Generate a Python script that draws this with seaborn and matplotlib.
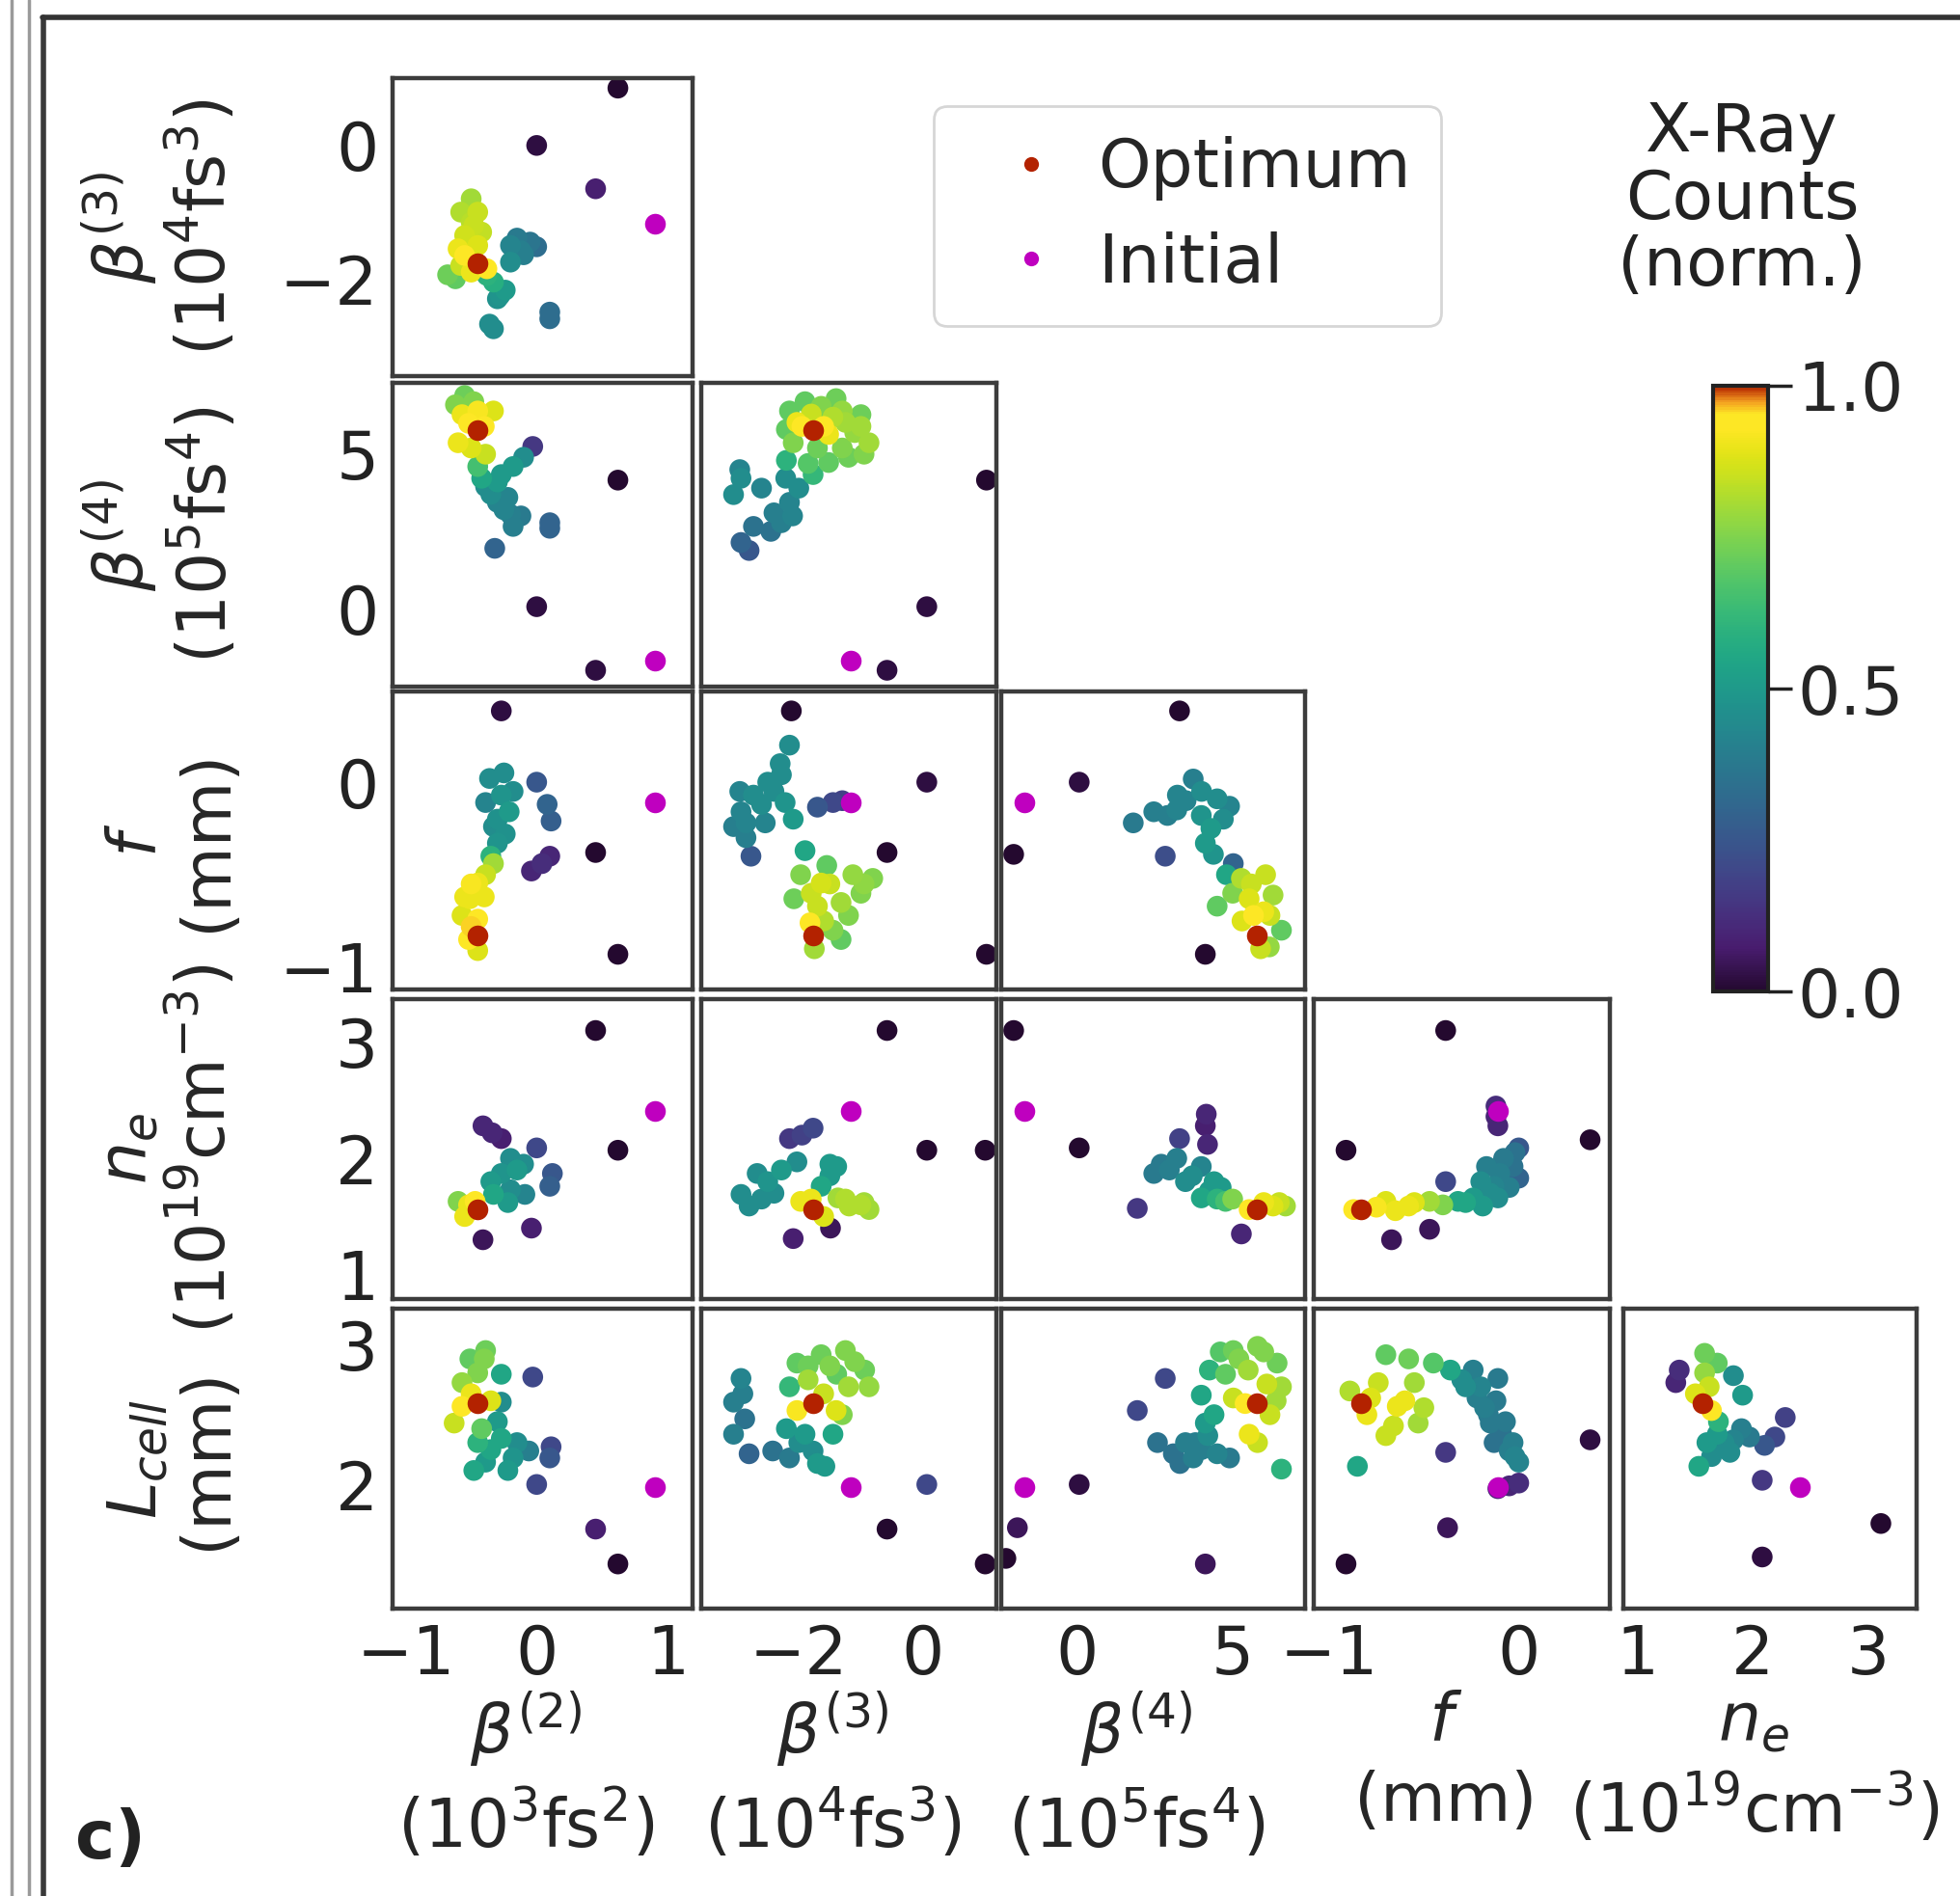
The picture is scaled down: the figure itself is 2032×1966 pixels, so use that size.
import numpy as np
import pandas as pd
import matplotlib
matplotlib.use("Agg")
import matplotlib.pyplot as plt
from matplotlib.colors import LinearSegmentedColormap, Normalize
from matplotlib.lines import Line2D
import seaborn as sns

# ---------------------------------------------------------------- data
# Each panel: (x, y, normalised x-ray counts) for the sampled settings.
B3_VS_B2 = [
    (0.62, 0.86, 0.0), (0.0, 0.0, 0.02), (0.45, -0.65, 0.08),
    (-0.5, -0.8, 0.8), (-0.45, -1.0, 0.85), (-0.5, -1.15, 0.83), (-0.42, -1.3, 0.84),
    (-0.55, -1.35, 0.86), (-0.58, -1.0, 0.82), (-0.48, -1.2, 0.85), (-0.45, -1.5, 0.88),
    (-0.6, -1.55, 0.9), (-0.55, -1.65, 0.95), (-0.38, -1.85, 0.93), (-0.5, -1.9, 0.9),
    (-0.58, -1.8, 0.85),
    (-0.68, -1.94, 0.72), (-0.62, -2.0, 0.7),
    (-0.15, -1.39, 0.38), (0.0, -1.52, 0.33), (-0.1, -1.64, 0.4), (-0.2, -1.5, 0.42),
    (-0.05, -1.45, 0.36), (-0.12, -1.58, 0.4), (-0.2, -1.75, 0.45),
    (-0.24, -2.17, 0.5), (-0.33, -2.05, 0.58), (-0.38, -1.95, 0.6), (-0.28, -2.25, 0.48),
    (-0.3, -2.3, 0.47),
    (-0.33, -2.75, 0.45), (-0.36, -2.68, 0.45), (0.1, -2.6, 0.33), (0.1, -2.5, 0.33),
]
B4_VS_B2 = [
    (0.62, 4.16, 0.0), (0.0, 0.06, 0.02), (0.45, -2.0, 0.02),
    (-0.48, 6.7, 0.75), (-0.57, 6.28, 0.9), (-0.33, 6.4, 0.88), (-0.6, 5.37, 0.9),
    (-0.39, 5.0, 0.85), (-0.52, 6.0, 0.95), (-0.4, 5.9, 0.93), (-0.62, 6.6, 0.75),
    (-0.45, 6.4, 0.92), (-0.5, 5.2, 0.88), (-0.55, 6.9, 0.72),
    (-0.03, 5.25, 0.15),
    (-0.42, 4.22, 0.55), (-0.27, 4.34, 0.5), (-0.18, 4.6, 0.5), (-0.1, 4.9, 0.45),
    (-0.39, 3.95, 0.45), (-0.3, 3.44, 0.42), (-0.2, 3.05, 0.4), (-0.18, 2.66, 0.4),
    (-0.35, 3.7, 0.45), (-0.25, 3.2, 0.42), (-0.3, 4.1, 0.5), (-0.22, 3.6, 0.42),
    (-0.12, 3.0, 0.38), (-0.45, 4.6, 0.65),
    (0.1, 2.78, 0.3), (0.1, 2.6, 0.3), (-0.32, 1.95, 0.3),
]
B4_VS_B3 = [
    (1.02, 4.16, 0.0), (0.06, 0.06, 0.02), (-0.58, -2.0, 0.02),
    (-2.15, 6.4, 0.7), (-1.64, 6.55, 0.75), (-1.25, 6.03, 0.8), (-0.87, 5.37, 0.8),
    (-1.0, 6.28, 0.72), (-2.09, 5.37, 0.75), (-1.52, 4.73, 0.7), (-1.77, 4.34, 0.62),
    (-2.03, 6.03, 0.9), (-1.52, 5.64, 0.9), (-1.9, 6.7, 0.7), (-1.4, 6.8, 0.72),
    (-1.1, 5.7, 0.78), (-1.3, 5.2, 0.75), (-1.95, 5.9, 0.95), (-1.6, 5.9, 0.93),
    (-1.8, 6.3, 0.85), (-1.3, 6.4, 0.78), (-1.7, 5.2, 0.72), (-1.0, 5.9, 0.8),
    (-2.2, 4.8, 0.6), (-1.2, 4.9, 0.72), (-1.45, 6.2, 0.82), (-2.2, 5.8, 0.7),
    (-1.85, 4.7, 0.68), (-0.95, 5.0, 0.75),
    (-2.93, 4.22, 0.45), (-3.05, 3.69, 0.45), (-2.21, 4.22, 0.45), (-2.15, 3.44, 0.42),
    (-2.28, 2.78, 0.4), (-2.73, 2.66, 0.35), (-2.93, 2.14, 0.3), (-2.8, 1.88, 0.25),
    (-2.0, 3.9, 0.45), (-2.4, 3.1, 0.4), (-2.95, 4.5, 0.42), (-2.6, 3.9, 0.42),
    (-2.45, 2.5, 0.35), (-2.1, 3.0, 0.42),
]
F_VS_B2 = [
    (-0.27, 0.385, 0.02), (0.45, -0.38, 0.0), (0.62, -0.93, 0.0),
    (-0.36, 0.02, 0.45), (-0.27, -0.07, 0.48), (-0.21, -0.16, 0.5), (-0.33, -0.24, 0.45),
    (-0.3, -0.33, 0.48), (-0.39, -0.11, 0.42), (-0.25, 0.05, 0.45), (-0.18, -0.05, 0.45),
    (-0.3, -0.2, 0.47), (-0.24, -0.28, 0.47), (-0.35, -0.4, 0.6),
    (0.0, 0.0, 0.25), (0.11, -0.21, 0.28), (0.08, -0.12, 0.3),
    (-0.04, -0.48, 0.1), (0.1, -0.4, 0.1), (0.04, -0.44, 0.12),
    (-0.45, -0.545, 0.9), (-0.51, -0.63, 0.9), (-0.39, -0.5, 0.85), (-0.57, -0.72, 0.88),
    (-0.33, -0.44, 0.8), (-0.5, -0.55, 0.92), (-0.55, -0.62, 0.9), (-0.4, -0.62, 0.9),
    (-0.45, -0.74, 0.95), (-0.5, -0.78, 0.96), (-0.45, -0.91, 0.88), (-0.52, -0.85, 0.93),
]
F_VS_B3 = [
    (-2.12, 0.385, 0.0), (0.06, 0.0, 0.02), (-0.58, -0.38, 0.0), (1.02, -0.93, 0.0),
    (-2.93, -0.16, 0.42), (-2.73, -0.07, 0.45), (-3.05, -0.24, 0.4), (-2.28, 0.04, 0.45),
    (-2.22, -0.11, 0.48), (-2.09, -0.2, 0.5), (-2.54, -0.22, 0.42), (-2.85, -0.3, 0.4),
    (-2.3, 0.1, 0.45), (-2.6, -0.12, 0.45), (-2.4, -0.05, 0.45), (-2.95, -0.05, 0.42),
    (-2.5, 0.0, 0.45), (-2.15, 0.2, 0.45), (-2.85, -0.22, 0.42),
    (-2.77, -0.4, 0.25),
    (-1.7, -0.135, 0.25), (-1.45, -0.11, 0.2), (-1.3, -0.1, 0.18),
    (-1.9, -0.37, 0.55),
    (-1.97, -0.5, 0.75), (-1.64, -0.545, 0.87), (-1.13, -0.5, 0.78), (-0.81, -0.52, 0.75),
    (-2.08, -0.63, 0.72), (-1.7, -0.67, 0.85), (-1.32, -0.65, 0.8), (-1.45, -0.8, 0.75),
    (-1.32, -0.85, 0.7), (-1.82, -0.76, 0.95), (-1.0, -0.6, 0.75), (-1.5, -0.55, 0.85),
    (-1.8, -0.6, 0.85), (-1.6, -0.75, 0.82), (-1.2, -0.72, 0.75), (-0.95, -0.55, 0.77),
    (-1.55, -0.45, 0.7), (-1.75, -0.9, 0.8),
]
F_VS_B4 = [
    (3.29, 0.385, 0.0), (0.06, 0.0, 0.02), (-2.05, -0.39, 0.0), (4.12, -0.93, 0.0),
    (1.8, -0.22, 0.38), (2.46, -0.16, 0.4), (3.22, -0.07, 0.42), (3.73, 0.017, 0.4),
    (4.5, -0.09, 0.45), (4.9, -0.13, 0.42), (3.99, -0.18, 0.48), (4.12, -0.33, 0.5),
    (4.38, -0.39, 0.48), (3.5, -0.1, 0.42), (2.9, -0.18, 0.4), (3.2, -0.15, 0.42),
    (4.0, -0.05, 0.45), (4.7, -0.2, 0.45), (4.3, -0.25, 0.5), (4.8, -0.5, 0.55),
    (2.83, -0.4, 0.22), (5.02, -0.44, 0.3),
    (4.5, -0.67, 0.7), (5.28, -0.52, 0.82), (6.06, -0.5, 0.85), (6.3, -0.61, 0.8),
    (5.53, -0.63, 0.88), (5.67, -0.72, 0.95), (6.57, -0.8, 0.7), (6.18, -0.89, 0.78),
    (6.0, -0.7, 0.9), (5.0, -0.6, 0.75), (5.6, -0.55, 0.85), (6.2, -0.72, 0.85),
    (5.3, -0.75, 0.88), (5.9, -0.9, 0.85),
]
NE_VS_B2 = [
    (0.45, 3.1, 0.0), (0.62, 2.07, 0.0),
    (-0.41, 2.28, 0.1), (-0.27, 2.17, 0.08), (-0.34, 2.22, 0.1),
    (0.0, 2.09, 0.2), (0.12, 1.87, 0.25), (0.1, 1.76, 0.28),
    (-0.27, 1.87, 0.48), (-0.15, 1.9, 0.5), (-0.2, 1.73, 0.45), (-0.09, 1.69, 0.42),
    (-0.33, 1.69, 0.55), (-0.2, 2.0, 0.45), (-0.35, 1.8, 0.5), (-0.22, 1.62, 0.5),
    (-0.1, 1.95, 0.45),
    (-0.6, 1.63, 0.75), (-0.47, 1.63, 0.95), (-0.55, 1.5, 0.9), (-0.52, 1.6, 0.9),
    (-0.04, 1.4, 0.08), (-0.41, 1.3, 0.05),
]
NE_VS_B3 = [
    (-0.58, 3.1, 0.0), (0.06, 2.07, 0.0), (1.0, 2.07, 0.0),
    (-2.15, 2.17, 0.15), (-1.77, 2.26, 0.2), (-1.95, 2.2, 0.18),
    (-2.93, 1.69, 0.45), (-2.67, 1.87, 0.45), (-2.28, 1.9, 0.5), (-2.03, 1.97, 0.45),
    (-2.8, 1.59, 0.45), (-2.5, 1.8, 0.48), (-2.4, 1.7, 0.45), (-2.6, 1.65, 0.45),
    (-1.39, 1.93, 0.5), (-1.64, 1.76, 0.55), (-1.5, 1.85, 0.5), (-1.5, 1.95, 0.5),
    (-1.19, 1.59, 0.82), (-0.87, 1.56, 0.8), (-1.37, 1.66, 0.8), (-1.0, 1.6, 0.82),
    (-1.25, 1.65, 0.82), (-0.95, 1.62, 0.8),
    (-1.97, 1.63, 0.9), (-1.6, 1.5, 0.88), (-1.8, 1.65, 0.9),
    (-2.09, 1.31, 0.08), (-1.49, 1.4, 0.05),
]
NE_VS_B4 = [
    (-2.05, 3.1, 0.0), (0.06, 2.09, 0.0), (1.93, 1.57, 0.15),
    (3.29, 2.17, 0.18), (4.12, 2.28, 0.08), (4.19, 2.12, 0.1), (4.15, 2.38, 0.1),
    (2.46, 1.87, 0.38), (2.96, 1.9, 0.4), (3.48, 1.8, 0.45), (3.99, 1.93, 0.42),
    (4.25, 1.72, 0.5), (4.63, 1.75, 0.5), (3.99, 1.66, 0.55), (4.77, 1.63, 0.65),
    (3.2, 2.0, 0.4), (3.7, 1.85, 0.45), (4.4, 1.8, 0.5), (4.5, 1.65, 0.6),
    (2.7, 1.95, 0.38), (5.0, 1.65, 0.75),
    (6.3, 1.59, 0.88), (6.7, 1.59, 0.8), (5.53, 1.56, 0.95), (6.0, 1.62, 0.9),
    (6.5, 1.62, 0.85),
    (5.28, 1.35, 0.1),
]
NE_VS_F = [
    (-0.385, 3.1, 0.0), (0.376, 2.16, 0.0), (-0.91, 2.07, 0.0),
    (-0.12, 2.45, 0.12), (-0.11, 2.28, 0.1), (-0.12, 2.36, 0.1),
    (0.0, 2.09, 0.25),
    (-0.03, 1.93, 0.35), (-0.17, 1.93, 0.4), (-0.13, 1.76, 0.42), (0.0, 1.83, 0.3),
    (-0.24, 1.66, 0.5), (-0.11, 1.66, 0.45), (-0.19, 1.59, 0.5), (-0.08, 2.0, 0.38),
    (-0.2, 1.8, 0.45), (-0.05, 1.75, 0.4), (-0.15, 1.7, 0.45), (-0.02, 2.05, 0.35),
    (-0.1, 1.87, 0.4),
    (-0.385, 1.8, 0.2), (-0.32, 1.63, 0.55), (-0.28, 1.62, 0.55), (-0.4, 1.6, 0.75),
    (-0.58, 1.59, 0.9), (-0.47, 1.63, 0.8), (-0.7, 1.63, 0.88), (-0.65, 1.55, 0.9),
    (-0.55, 1.62, 0.88), (-0.75, 1.58, 0.92),
    (-0.87, 1.56, 0.95),
    (-0.67, 1.3, 0.05), (-0.47, 1.39, 0.05),
]
L_VS_B2 = [
    (-0.51, 2.9, 0.7), (-0.39, 2.96, 0.72), (-0.27, 2.79, 0.55), (-0.57, 2.73, 0.78),
    (-0.45, 2.8, 0.75), (-0.4, 2.9, 0.75),
    (-0.03, 2.77, 0.2),
    (-0.57, 2.56, 0.95), (-0.63, 2.44, 0.85), (-0.35, 2.6, 0.88), (-0.5, 2.65, 0.9),
    (-0.27, 2.59, 0.45),
    (-0.45, 2.3, 0.6), (-0.27, 2.33, 0.55), (-0.39, 2.16, 0.5), (-0.18, 2.19, 0.48),
    (-0.48, 2.1, 0.55), (-0.06, 2.24, 0.4), (-0.3, 2.45, 0.5), (-0.42, 2.4, 0.7),
    (-0.35, 2.25, 0.55), (-0.22, 2.1, 0.5), (-0.15, 2.3, 0.45),
    (0.11, 2.27, 0.2), (0.1, 2.19, 0.25),
    (0.0, 2.0, 0.2), (0.45, 1.68, 0.08), (0.62, 1.43, 0.0),
]
L_VS_B3 = [
    (-2.03, 2.87, 0.7), (-1.64, 2.93, 0.72), (-1.25, 2.96, 0.75), (-0.94, 2.82, 0.72),
    (-0.87, 2.7, 0.78), (-1.39, 2.79, 0.7), (-2.15, 2.7, 0.62), (-1.85, 2.85, 0.72),
    (-1.85, 2.75, 0.8), (-1.5, 2.85, 0.75), (-1.1, 2.88, 0.75), (-1.2, 2.7, 0.8),
    (-2.03, 2.53, 0.92), (-1.4, 2.53, 0.88), (-1.6, 2.65, 0.85), (-1.3, 2.5, 0.75),
    (-2.93, 2.76, 0.42), (-3.05, 2.59, 0.4), (-2.87, 2.47, 0.35), (-3.05, 2.36, 0.4),
    (-2.8, 2.22, 0.3), (-2.9, 2.65, 0.4),
    (-2.42, 2.24, 0.35), (-2.15, 2.19, 0.38), (-1.77, 2.24, 0.45), (-1.58, 2.13, 0.5),
    (-1.45, 2.36, 0.55), (-1.9, 2.36, 0.5), (-2.0, 2.3, 0.45), (-1.7, 2.15, 0.5),
    (-2.2, 2.4, 0.5),
    (0.06, 2.0, 0.2), (-0.58, 1.68, 0.0), (1.0, 1.43, 0.0),
]
L_VS_B4 = [
    (-1.93, 1.69, 0.05), (-2.3, 1.47, 0.0), (0.06, 2.0, 0.02), (4.12, 1.43, 0.05),
    (2.83, 2.76, 0.2), (1.93, 2.53, 0.2),
    (2.58, 2.3, 0.35), (3.09, 2.22, 0.35), (3.73, 2.19, 0.4), (4.5, 2.22, 0.42),
    (4.9, 2.19, 0.38), (3.48, 2.3, 0.4), (4.0, 2.25, 0.4), (3.3, 2.15, 0.35),
    (4.2, 2.35, 0.45), (3.8, 2.3, 0.4),
    (4.12, 2.44, 0.5), (3.99, 2.64, 0.55), (4.25, 2.82, 0.6), (4.4, 2.5, 0.55),
    (5.02, 2.96, 0.72), (5.8, 2.99, 0.75), (6.43, 2.87, 0.72), (6.57, 2.7, 0.8),
    (4.77, 2.79, 0.7), (5.02, 2.62, 0.85), (5.4, 2.58, 0.95), (6.2, 2.5, 0.85),
    (5.5, 2.82, 0.8), (6.1, 2.72, 0.85), (6.4, 2.6, 0.8), (4.6, 2.95, 0.68),
    (5.2, 2.9, 0.75), (6.0, 2.95, 0.75),
    (5.53, 2.36, 0.9), (5.8, 2.3, 0.85), (6.57, 2.11, 0.6),
]
L_VS_F = [
    (-0.64, 2.56, 0.9), (-0.74, 2.73, 0.85), (-0.55, 2.73, 0.8), (-0.66, 2.42, 0.85),
    (-0.53, 2.44, 0.8), (-0.7, 2.93, 0.7), (-0.45, 2.87, 0.68), (-0.89, 2.67, 0.82),
    (-0.6, 2.6, 0.9), (-0.8, 2.5, 0.9), (-0.78, 2.62, 0.88), (-0.58, 2.9, 0.72),
    (-0.5, 2.55, 0.82), (-0.7, 2.35, 0.85),
    (-0.24, 2.82, 0.4), (-0.11, 2.76, 0.38), (-0.22, 2.62, 0.4), (-0.15, 2.44, 0.38),
    (-0.09, 2.36, 0.35), (-0.05, 2.24, 0.4), (0.0, 2.16, 0.42), (-0.28, 2.7, 0.45),
    (-0.36, 2.82, 0.55), (-0.18, 2.55, 0.4), (-0.12, 2.6, 0.38), (-0.2, 2.7, 0.42),
    (-0.03, 2.3, 0.4), (-0.07, 2.45, 0.38), (-0.3, 2.75, 0.45), (-0.16, 2.5, 0.38),
    (-0.02, 2.2, 0.42), (-0.13, 2.3, 0.35),
    (-0.11, 1.97, 0.1), (0.0, 2.01, 0.12), (-0.05, 1.99, 0.1),
    (-0.385, 2.23, 0.15), (-0.85, 2.13, 0.55),
    (-0.375, 1.69, 0.05), (-0.91, 1.43, 0.0), (0.376, 2.32, 0.02),
]
L_VS_NE = [
    (1.33, 2.73, 0.1), (1.36, 2.82, 0.12),
    (1.58, 2.94, 0.72), (1.58, 2.8, 0.78), (1.69, 2.87, 0.7), (1.62, 2.7, 0.85),
    (1.83, 2.78, 0.45), (1.91, 2.64, 0.5),
    (1.64, 2.53, 0.93), (1.5, 2.65, 0.88),
    (1.69, 2.36, 0.5), (1.83, 2.32, 0.42), (1.97, 2.34, 0.38), (1.64, 2.2, 0.45),
    (1.53, 2.13, 0.55), (1.8, 2.23, 0.45), (1.7, 2.45, 0.6), (1.75, 2.3, 0.45),
    (1.6, 2.3, 0.5), (1.9, 2.4, 0.4),
    (2.19, 2.34, 0.2), (2.28, 2.48, 0.18), (2.1, 2.28, 0.25),
    (2.08, 2.03, 0.15), (3.11, 1.72, 0.0), (2.08, 1.48, 0.02),
]

OPTIMUM = {"b2": -0.45, "b3": -1.77, "b4": 5.77, "f": -0.83, "ne": 1.56, "L": 2.58}
INITIAL = {"b2": 0.90, "b3": -1.17, "b4": -1.69, "f": -0.11, "ne": 2.41, "L": 1.98}

ROW_VARS = ["b3", "b4", "f", "ne", "L"]
COL_VARS = ["b2", "b3", "b4", "f", "ne"]

PANELS = {
    ("b3", "b2"): B3_VS_B2,
    ("b4", "b2"): B4_VS_B2, ("b4", "b3"): B4_VS_B3,
    ("f", "b2"): F_VS_B2, ("f", "b3"): F_VS_B3, ("f", "b4"): F_VS_B4,
    ("ne", "b2"): NE_VS_B2, ("ne", "b3"): NE_VS_B3, ("ne", "b4"): NE_VS_B4,
    ("ne", "f"): NE_VS_F,
    ("L", "b2"): L_VS_B2, ("L", "b3"): L_VS_B3, ("L", "b4"): L_VS_B4,
    ("L", "f"): L_VS_F, ("L", "ne"): L_VS_NE,
}

ROW_LABELS = {
    "b3": "$\\beta^{(3)}$\n(10$^4$fs$^3$)",
    "b4": "$\\beta^{(4)}$\n(10$^5$fs$^4$)",
    "f": "$f$\n(mm)",
    "ne": "$n_e$\n(10$^{19}$cm$^{-3}$)",
    "L": "$L_{cell}$\n(mm)",
}
COL_LABELS = {
    "b2": "$\\beta^{(2)}$\n(10$^3$fs$^2$)",
    "b3": "$\\beta^{(3)}$\n(10$^4$fs$^3$)",
    "b4": "$\\beta^{(4)}$\n(10$^5$fs$^4$)",
    "f": "$f$\n(mm)",
    "ne": "$n_e$\n(10$^{19}$cm$^{-3}$)",
}
X_TICKS = {"b2": [-1, 0, 1], "b3": [-2, 0], "b4": [0, 5], "f": [-1, 0], "ne": [1, 2, 3]}
Y_TICKS = {"b3": [-2, 0], "b4": [0, 5], "f": [-1, 0], "ne": [1, 2, 3], "L": [2, 3]}
X_LIMS = {"b2": (-1.10, 1.19), "b3": (-3.57, 1.18), "b4": (-2.45, 7.33),
          "f": (-1.08, 0.48), "ne": (0.875, 3.42)}
Y_LIMS = {"b3": (-3.46, 1.01), "b4": (-2.53, 7.31), "f": (-1.12, 0.49),
          "ne": (0.79, 3.37), "L": (1.11, 3.26)}

# ---------------------------------------------------------------- style
W, H, DPI = 2033, 1966, 100
FS = 50
PT_SIZE = 240
FRAME = "#3c3c3c"

sns.set_style("white")
plt.rcParams.update({
    "font.family": ["DejaVu Sans"],
    "mathtext.fontset": "dejavusans",
    "font.size": FS,
    "axes.edgecolor": FRAME,
    "axes.linewidth": 3.2,
})

# viridis squeezed into the lower range, running out to orange/red at the top
_vir = plt.get_cmap("viridis")
_stops = [(0.0, "#24092f")]
_stops += [(p, _vir(p / 0.93)) for p in np.linspace(0.07, 0.93, 55)]
_stops += [(0.955, "#fde725"), (0.975, "#f4a021"), (1.0, "#b32200")]
CMAP = LinearSegmentedColormap.from_list("xray", _stops)

fig = plt.figure(figsize=(W / DPI, H / DPI), dpi=DPI)
fig.patch.set_facecolor("white")


def fig_rect(x, y, w, h):
    return [x / W, 1 - (y + h) / H, w / W, h / H]


COL_X = [407, 727, 1038, 1362, 1683]
COL_W = [311, 306, 315, 307, 304]
ROW_Y = [81, 397, 717, 1036, 1357]
ROW_H = [309, 315, 309, 311, 311]

for i, rv in enumerate(ROW_VARS):
    for j, cv in enumerate(COL_VARS[: i + 1]):
        ax = fig.add_axes(fig_rect(COL_X[j], ROW_Y[i], COL_W[j], ROW_H[i]))
        pts = pd.DataFrame(PANELS[(rv, cv)], columns=["x", "y", "v"]).sort_values("v")
        sns.scatterplot(data=pts, x="x", y="y", hue="v", palette=CMAP, hue_norm=(0, 1),
                        s=PT_SIZE, linewidth=0, legend=False, ax=ax, zorder=2)
        ax.scatter([INITIAL[cv]], [INITIAL[rv]], s=PT_SIZE, color="m", lw=0, zorder=3)
        ax.scatter([OPTIMUM[cv]], [OPTIMUM[rv]], s=PT_SIZE, color=CMAP(1.0), lw=0, zorder=4)
        ax.set_xlim(X_LIMS[cv])
        ax.set_ylim(Y_LIMS[rv])
        ax.set_xlabel("")
        ax.set_ylabel("")
        ax.grid(False)
        for sp in ax.spines.values():
            sp.set_zorder(5)

        if j == 0:
            ax.set_yticks(Y_TICKS[rv])
            ax.set_ylabel(ROW_LABELS[rv], fontsize=FS, linespacing=1.1)
            ax.yaxis.set_label_coords(-0.51, 0.5)
        else:
            ax.set_yticks([])
        if i == len(ROW_VARS) - 1:
            ax.set_xticks(X_TICKS[cv])
            ax.set_xlabel(COL_LABELS[cv], fontsize=FS, linespacing=1.3)
            ax.xaxis.set_label_coords(0.445, -0.27)
        else:
            ax.set_xticks([])
        ax.tick_params(direction="inout", length=9, width=2, color="#2a2a2a",
                       labelsize=FS, pad=6, labelcolor="#222222")

# colour bar
cax = fig.add_axes(fig_rect(1776, 400, 57, 628))
sm = plt.cm.ScalarMappable(norm=Normalize(0, 1), cmap=CMAP)
cb = fig.colorbar(sm, cax=cax, ticks=[0.0, 0.5, 1.0])
cb.ax.set_yticklabels(["0.0", "0.5", "1.0"])
cb.outline.set_linewidth(3)
cb.outline.set_edgecolor("#222222")
cax.tick_params(length=18, width=2.5, pad=4, labelsize=FS, color="#222222")
fig.text(1806 / W, 1 - 207 / H, "X-Ray\nCounts\n(norm.)", ha="center", va="center",
         fontsize=FS, linespacing=1.05, color="#222222")

# legend
handles = [
    Line2D([], [], ls="none", marker="o", ms=11, mfc=CMAP(1.0), mec="none", label="Optimum"),
    Line2D([], [], ls="none", marker="o", ms=11, mfc="m", mec="none", label="Initial"),
]
leg = fig.legend(handles=handles, loc="upper left", bbox_to_anchor=(968 / W, 1 - 110 / H),
                 bbox_transform=fig.transFigure, borderaxespad=0, handlelength=2.0,
                 handletextpad=0.0, labelspacing=0.45, borderpad=0.45, fontsize=FS,
                 frameon=True, edgecolor="0.8", fancybox=True)
leg.get_frame().set_linewidth(2)

# panel letter and frame rules
fig.text(115 / W, 1 - 1908 / H, "c)", fontweight="bold", ha="center", va="center",
         fontsize=FS, color="#222222")
for x, c, lw in [(12, "#9a9a9a", 2.5), (30, "#9a9a9a", 2.5), (45, "#3a3a3a", 4)]:
    fig.add_artist(Line2D([x / W, x / W], [0, 1 if x < 40 else 1 - 18 / H],
                          transform=fig.transFigure, color=c, lw=lw))
fig.add_artist(Line2D([44 / W, 1], [1 - 18 / H, 1 - 18 / H], transform=fig.transFigure,
                      color="#333333", lw=4))

fig.savefig("out.png", dpi=DPI, facecolor="white")
